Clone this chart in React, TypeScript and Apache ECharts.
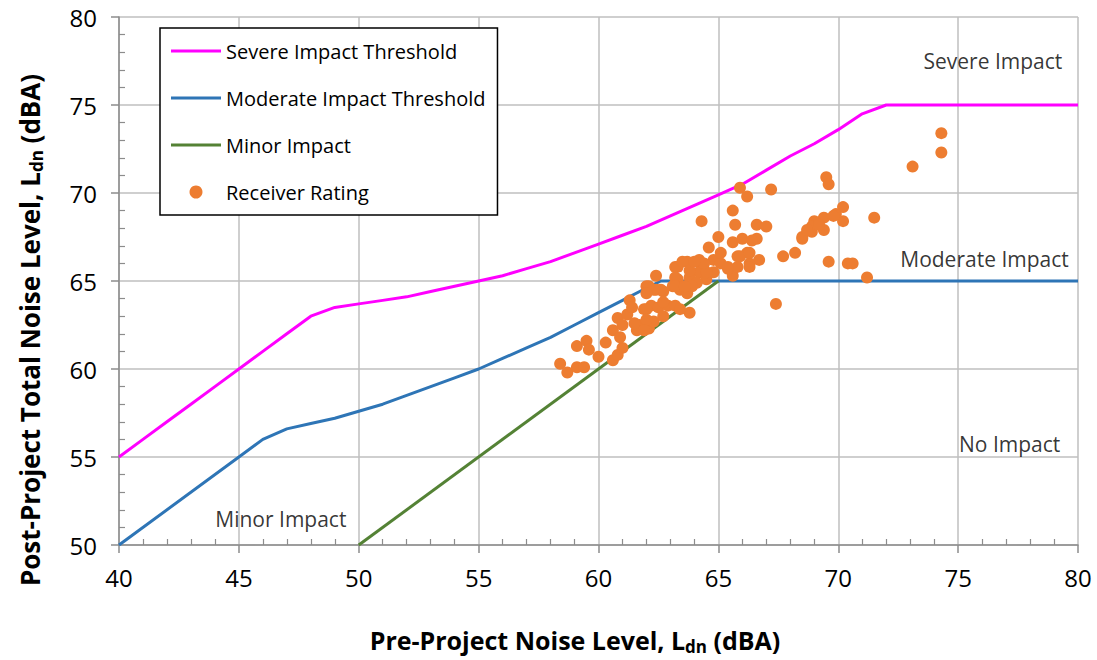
import React, { useEffect, useRef } from "react";
import * as echarts from "echarts";

const FONT = "'Open Sans', 'Noto Sans', sans-serif";

const severeX = [40, 41, 42, 43, 44, 45, 46, 47, 48, 49, 50, 51, 52, 53, 54, 55, 56, 57, 58, 59, 60, 61, 62, 63, 64, 65, 66, 67, 68, 69, 70, 71, 72, 80];
const severeY = [55, 56, 57, 58, 59, 60, 61, 62, 63, 63.5, 63.7, 63.9, 64.1, 64.4, 64.7, 65.0, 65.3, 65.7, 66.1, 66.6, 67.1, 67.6, 68.1, 68.7, 69.3, 69.9, 70.5, 71.3, 72.1, 72.8, 73.6, 74.5, 75, 75];

const moderateX = [40, 45, 46, 47, 48, 49, 50, 51, 52, 53, 54, 55, 56, 57, 58, 59, 60, 61, 62, 62.6, 80];
const moderateY = [50, 55, 56, 56.6, 56.9, 57.2, 57.6, 58.0, 58.5, 59.0, 59.5, 60.0, 60.6, 61.2, 61.8, 62.5, 63.2, 63.9, 64.6, 65, 65];

const minorX = [50, 65];
const minorY = [50, 65];

const receiverPre = [
  58.4, 58.7, 59.1, 59.1, 59.4, 59.5, 59.6, 60.0, 60.3, 60.6, 60.8, 61.0, 60.6, 60.9, 60.8, 61.2, 61.0, 61.3, 61.4, 61.7,
  61.6, 61.9, 62.1, 62.3, 62.2, 62.5, 62.9, 63.2, 63.8, 62.0, 62.4, 62.4, 62.7, 63.2, 63.3, 63.4, 63.7, 63.7, 64.1, 64.2,
  64.5, 64.6, 64.8, 64.8, 65.9, 66.2, 67.2, 64.3, 65.6, 65.7, 66.6, 67.0, 65.0, 65.6, 66.0, 66.6, 67.7, 68.2, 68.5, 68.9,
  69.0, 67.4, 66.7, 66.3, 66.2, 65.8, 65.6, 65.4, 65.1, 64.2, 63.3, 63.8, 64.5, 62.6, 63.1, 64.1, 74.3, 74.3, 73.1, 69.5,
  69.6, 70.2, 70.2, 71.5, 69.9, 69.4, 68.9, 69.4, 68.5, 69.6, 70.4, 70.6, 71.2, 69.8, 63.5, 63.8, 63.2, 63.9, 62.3, 62.0,
  62.7, 63.4, 62.7, 62.0, 65.1, 66.4, 65.9, 66.3, 65.8, 66.3, 65.4, 64.4, 64.0, 63.2, 63.6, 68.7, 69.2, 62.1, 62.0, 61.5,
  61.9
];
const receiverPost = [
  60.3, 59.8, 61.3, 60.1, 60.1, 61.6, 61.1, 60.7, 61.5, 60.5, 60.8, 61.2, 62.2, 61.8, 62.9, 63.1, 62.5, 63.9, 63.5, 62.5,
  62.2, 63.4, 62.3, 62.7, 63.6, 63.5, 63.6, 63.6, 63.2, 64.7, 65.3, 64.5, 64.4, 65.8, 65.1, 64.5, 64.3, 66.1, 66.1, 65.5,
  65.1, 66.9, 65.5, 66.2, 70.3, 69.8, 70.2, 68.4, 69.0, 68.2, 68.2, 68.1, 67.5, 67.2, 67.4, 67.4, 66.4, 66.6, 67.4, 67.8,
  68.4, 63.7, 66.2, 66.0, 66.6, 66.4, 65.3, 65.7, 66.0, 66.2, 65.8, 65.2, 65.5, 64.5, 64.7, 64.9, 73.4, 72.3, 71.5, 70.9,
  70.5, 69.2, 68.4, 68.6, 68.8, 68.6, 68.1, 67.9, 67.5, 66.1, 66.0, 66.0, 65.2, 68.7, 66.1, 65.6, 65.2, 64.7, 64.5, 63.4,
  63.8, 63.4, 63.0, 62.8, 66.6, 67.3, 66.4, 66.6, 65.8, 65.8, 65.8, 66.0, 66.1, 64.7, 64.7, 67.9, 68.2, 64.7, 64.3, 62.6,
  62.2
];

const regionNames = ["Severe Impact", "Moderate Impact", "No Impact", "Minor Impact"];
const regionX = [76.45, 76.1, 77.15, 46.75];
const regionY = [77.5, 66.25, 55.75, 51.45];

const xTicks = [40, 45, 50, 55, 60, 65, 70, 75, 80];
const yTicks = [50, 55, 60, 65, 70, 75, 80];

const zip = (a: number[], b: number[]) => a.map((v, i) => [v, b[i]]);

const LINE_ICON = "path://M0,0 L50,0 L50,3 L0,3 Z";

export default function App() {
  const ref = useRef<HTMLDivElement>(null);
  useEffect(() => {
    if (!ref.current) return;
    const chart = echarts.init(ref.current, null, { renderer: "svg" });
    const gridColor = "#BFBFBF";
    const axisColor = "#8C8C8C";
    const baseX = {
      type: "value",
      min: xTicks[0],
      max: xTicks[xTicks.length - 1],
      interval: 5,
      position: "bottom",
      offset: 0,
    };
    const baseY = {
      type: "value",
      min: yTicks[0],
      max: yTicks[yTicks.length - 1],
      interval: 5,
      position: "left",
      offset: 0,
    };
    const titleRich = (size: number) => ({
      a: { fontSize: size, fontWeight: "bold", fontFamily: FONT, fill: "#000" },
      b: { fontSize: Math.round(size * 0.66), fontWeight: "bold", fontFamily: FONT, fill: "#000", padding: [Math.round(size * 0.5), 0, 0, 0] },
    });
    chart.setOption({
      animation: false,
      backgroundColor: "#ffffff",
      grid: { left: 119, top: 17, right: 19, bottom: 115 },
      xAxis: [
        {
          ...baseX,
          axisLine: { show: true, onZero: false, lineStyle: { color: axisColor, width: 1.5 } },
          axisTick: { show: true, length: 8, lineStyle: { color: axisColor, width: 1.5 } },
          minorTick: { show: false },
          splitLine: { show: true, lineStyle: { color: gridColor, width: 1.5 } },
          axisLabel: { color: "#000", fontSize: 24, fontFamily: FONT, margin: 20 },
        },
        {
          ...baseX,
          axisLine: { show: false, onZero: false },
          axisTick: { show: true, inside: true, length: 0, lineStyle: { color: axisColor, width: 1.2 } },
          minorTick: { show: true, splitNumber: 5, length: 6, lineStyle: { color: axisColor, width: 1.2 } },
          splitLine: { show: false },
          axisLabel: { show: false },
        },
      ],
      yAxis: [
        {
          ...baseY,
          axisLine: { show: true, onZero: false, lineStyle: { color: axisColor, width: 1.5 } },
          axisTick: { show: true, length: 8, lineStyle: { color: axisColor, width: 1.5 } },
          minorTick: { show: false },
          splitLine: { show: true, lineStyle: { color: gridColor, width: 1.5 } },
          axisLabel: { color: "#000", fontSize: 24, fontFamily: FONT, margin: 22 },
        },
        {
          ...baseY,
          axisLine: { show: false, onZero: false },
          axisTick: { show: true, inside: true, length: 0, lineStyle: { color: axisColor, width: 1.2 } },
          minorTick: { show: true, splitNumber: 5, length: 6, lineStyle: { color: axisColor, width: 1.2 } },
          splitLine: { show: false },
          axisLabel: { show: false },
        },
      ],
      legend: {
        orient: "vertical",
        left: 160,
        top: 28,
        backgroundColor: "#ffffff",
        borderColor: "#000000",
        borderWidth: 1.5,
        borderRadius: 0,
        padding: [13, 12, 13, 11],
        itemWidth: 50,
        itemHeight: 13,
        itemGap: 27,
        textStyle: { color: "#000", fontSize: 20, fontFamily: FONT, lineHeight: 20 },
        data: [
          { name: "Severe Impact Threshold", icon: LINE_ICON },
          { name: "Moderate Impact Threshold", icon: LINE_ICON },
          { name: "Minor Impact", icon: LINE_ICON },
          { name: "Receiver Rating", icon: "circle" },
        ],
      },
      graphic: [
        {
          type: "text",
          x: 575,
          y: 640,
          style: {
            text: "{a|Pre-Project Noise Level, L}{b|dn}{a| (dBA)}",
            align: "center",
            verticalAlign: "middle",
            rich: titleRich(25),
          },
        },
        {
          type: "text",
          x: 30,
          y: 330,
          rotation: Math.PI / 2,
          style: {
            text: "{a|Post-Project Total Noise Level, L}{b|dn}{a| (dBA)}",
            align: "center",
            verticalAlign: "middle",
            rich: titleRich(26),
          },
        },
      ],
      series: [
        {
          name: "Severe Impact Threshold",
          type: "line",
          data: zip(severeX, severeY),
          symbol: "none",
          lineStyle: { color: "#FF00FF", width: 3 },
          itemStyle: { color: "#FF00FF" },
          z: 3,
        },
        {
          name: "Moderate Impact Threshold",
          type: "line",
          data: zip(moderateX, moderateY),
          symbol: "none",
          lineStyle: { color: "#2E75B6", width: 3 },
          itemStyle: { color: "#2E75B6" },
          z: 3,
        },
        {
          name: "Minor Impact",
          type: "line",
          data: zip(minorX, minorY),
          symbol: "none",
          lineStyle: { color: "#548235", width: 3 },
          itemStyle: { color: "#548235" },
          z: 3,
        },
        {
          name: "Receiver Rating",
          type: "scatter",
          data: zip(receiverPre, receiverPost),
          symbol: "circle",
          symbolSize: 12,
          itemStyle: { color: "#ED7D31", opacity: 1 },
          z: 4,
        },
        {
          name: "regions",
          type: "scatter",
          silent: true,
          data: regionNames.map((n, i) => ({ name: n, value: [regionX[i], regionY[i]] })),
          symbolSize: 1,
          itemStyle: { color: "rgba(0,0,0,0)" },
          label: {
            show: true,
            position: "inside",
            formatter: "{b}",
            color: "#000",
            fontSize: 21,
            fontFamily: FONT,
          },
          z: 2,
        },
      ],
    });
    return () => chart.dispose();
  }, []);
  return <div ref={ref} style={{ width: 1097, height: 660, position: "absolute", left: 0, top: 0 }} />;
}
